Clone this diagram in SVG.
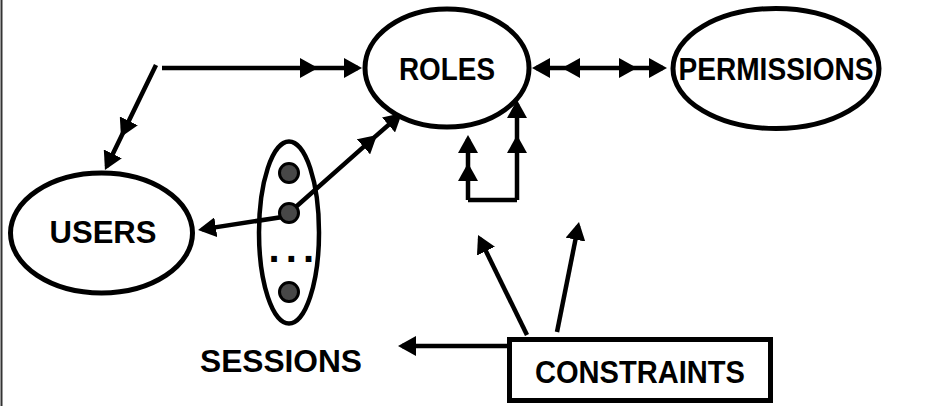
<svg xmlns="http://www.w3.org/2000/svg" width="950" height="406" viewBox="0 0 950 406">
<defs>
<marker id="ah" viewBox="0 0 18 20" markerWidth="18" markerHeight="20" refX="14" refY="10" markerUnits="userSpaceOnUse" orient="auto">
<path d="M0,0 L18,10 L0,20 Z" fill="#000"/>
</marker>
<style>
.shape{fill:#fff;stroke:#000;stroke-width:5}
.lbl{font-family:"Liberation Sans",Arial,sans-serif;font-weight:bold;font-size:31px;fill:#000;text-anchor:middle}
.c{fill:none;stroke:#000;stroke-width:4.5}
.a{marker-mid:url(#ah);marker-end:url(#ah)}
.dot{fill:#474747;stroke:#000;stroke-width:3}
</style>
</defs>
<rect width="950" height="406" fill="#fff"/>
<line x1="1.5" y1="0" x2="1.5" y2="406" stroke="#333" stroke-width="2"/>
<g id="connectors">
<path class="c a" d="M162,68 L314,68 L358,68"/>
<path class="c a" d="M156,65 L122.7,133.4 L106.7,166.4"/>
<path class="c a" d="M600,68 L566,68 L536,68"/>
<path class="c a" d="M600,68 L633,68 L663,68"/>
<path class="c" d="M468,200 L517,200"/>
<path class="c a" d="M468,200 L468,167 L468,139"/>
<path class="c a" d="M517,200 L517,139 L517,104"/>
<path class="c a" d="M289,216 L202,229.4"/>
<path class="c a" d="M289,213 L374,137.6 L399,115.7"/>
<path class="c a" d="M507,346 L402,346"/>
<path class="c a" d="M527,335 L479.8,238.6"/>
<path class="c a" d="M557,332 L578.2,225.9"/>
</g>
<g id="roles">
<ellipse class="shape" cx="447" cy="68" rx="82" ry="59"/>
<text class="lbl" x="447" y="80" textLength="96" lengthAdjust="spacingAndGlyphs">ROLES</text>
</g>
<g id="permissions">
<ellipse class="shape" cx="776" cy="68.5" rx="103" ry="60"/>
<text class="lbl" x="776" y="80" textLength="195" lengthAdjust="spacingAndGlyphs">PERMISSIONS</text>
</g>
<g id="users">
<ellipse class="shape" cx="101.5" cy="233" rx="91" ry="60"/>
<text class="lbl" x="103" y="243" textLength="107" lengthAdjust="spacingAndGlyphs">USERS</text>
</g>
<g id="sessions">
<ellipse class="shape" cx="289" cy="232.5" rx="30" ry="91" style="fill:none;stroke-width:4.5"/>
<circle class="dot" cx="289" cy="173" r="9.5"/>
<circle class="dot" cx="289" cy="213" r="9.5"/>
<circle class="dot" cx="289" cy="292" r="9.5"/>
<text class="lbl" x="290" y="262" style="font-size:40px;letter-spacing:-2.5px">. . .</text>
<text class="lbl" x="281" y="372" textLength="162" lengthAdjust="spacingAndGlyphs">SESSIONS</text>
</g>
<g id="constraints">
<rect class="shape" x="509.5" y="339.5" width="261" height="61"/>
<text class="lbl" x="640" y="383" textLength="210" lengthAdjust="spacingAndGlyphs">CONSTRAINTS</text>
</g>
</svg>
